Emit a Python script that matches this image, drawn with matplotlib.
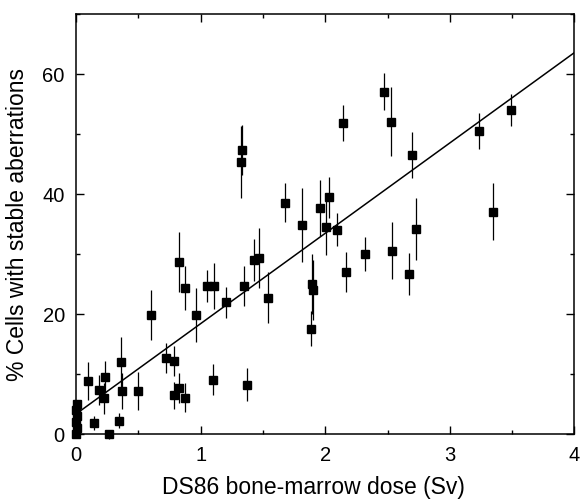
import matplotlib
matplotlib.use("Agg")
import matplotlib.pyplot as plt
import numpy as np
from matplotlib.ticker import MultipleLocator

plt.rcParams['font.family'] = ['Liberation Sans', 'DejaVu Sans']

# Dose (Sv), % cells with stable aberrations, error (half-length)
dose = [0.0, 0.012, 0.0, 0.012, 0.0, 0.012,
        0.099, 0.147, 0.187, 0.232, 0.228, 0.262, 0.347, 0.363, 0.368, 0.495,
        0.601, 0.721, 0.788, 0.788, 0.828, 0.874, 0.828, 0.874, 0.962, 1.048,
        1.106, 1.101, 1.202, 1.336, 1.328, 1.349, 1.376, 1.429, 1.467, 1.537,
        1.675, 1.814, 1.889, 1.894, 1.902, 1.962, 2.004, 2.030, 2.095, 2.143,
        2.164, 2.317, 2.471, 2.531, 2.535, 2.669, 2.696, 2.725, 3.233, 3.345,
        3.493]
pct = [0.0, 1.0, 2.0, 3.0, 4.0, 5.0,
       8.9, 1.9, 7.4, 9.6, 6.0, 0.0, 2.3, 12.0, 7.2, 7.2,
       19.9, 12.7, 12.2, 6.5, 7.8, 6.1, 28.7, 24.4, 19.9, 24.7,
       24.7, 9.1, 22.0, 47.4, 45.4, 24.7, 8.3, 29.0, 29.4, 22.8,
       38.6, 34.9, 17.6, 25.0, 24.1, 37.7, 34.6, 39.5, 34.1, 51.9,
       27.1, 30.1, 57.1, 52.1, 30.6, 26.8, 46.5, 34.2, 50.6, 37.1,
       54.0]
err = [0, 0, 0, 0, 0, 0,
       3.1, 1.2, 2.5, 2.7, 2.6, 0.8, 1.3, 4.2, 3.0, 3.2,
       4.2, 2.5, 2.5, 2.2, 2.5, 2.4, 5.0, 3.7, 4.5, 2.7,
       3.8, 2.6, 2.6, 4.2, 6.0, 3.3, 2.8, 3.5, 5.0, 4.2,
       3.2, 6.1, 2.9, 5.0, 5.0, 4.6, 4.7, 3.4, 2.8, 3.0,
       3.3, 2.8, 3.1, 5.8, 4.7, 3.5, 3.8, 5.2, 3.0, 4.8,
       2.7]

fit_intercept = 3.4
fit_slope = 15.05

xlabel = "DS86 bone-marrow dose (Sv)"
ylabel = "% Cells with stable aberrations"

fig = plt.figure(figsize=(5.8, 5.04), dpi=100)
ax = fig.add_axes([0.131, 0.138, 0.8595, 0.834])

ax.errorbar(dose, pct, yerr=err, fmt='none', ecolor='black', elinewidth=0.9,
            capsize=0, clip_on=False, zorder=2)
ax.plot(dose, pct, 's', color='black', markersize=6, clip_on=False, zorder=3)

xf = np.array([0.0, 4.0])
ax.plot(xf, fit_intercept + fit_slope * xf, color='black', lw=1.1, zorder=2)

ax.set_xlim(0, 4)
ax.set_ylim(0, 70)
ax.xaxis.set_major_locator(MultipleLocator(1))
ax.xaxis.set_minor_locator(MultipleLocator(0.5))
ax.yaxis.set_major_locator(MultipleLocator(20))
ax.yaxis.set_minor_locator(MultipleLocator(10))
ax.tick_params(which='both', direction='in', top=True, right=True, width=1.0)
ax.tick_params(which='major', length=6, labelsize=14.5, pad=8)
ax.tick_params(which='minor', length=3)
for s in ax.spines.values():
    s.set_linewidth(1.1)

ax.set_xlabel(xlabel, fontsize=16.5, va='center')
ax.set_ylabel(ylabel, fontsize=16.5, va='center')
ax.xaxis.set_label_coords(0.476, -0.127)
ax.yaxis.set_label_coords(-0.117, 0.5)

fig.savefig("out.png", dpi=100)
